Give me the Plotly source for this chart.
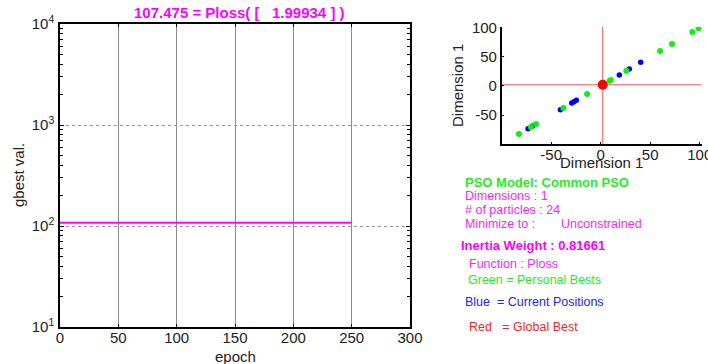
import plotly.graph_objects as go

# ---- data ----
epochs = [0, 50, 100, 150, 200, 250]
gbest_vals = [107.475, 107.475, 107.475, 107.475, 107.475, 107.475]

gbest_pos = 1.99934
pbest_pos = [-82.5, -70.5, -65.3, -37.7, -13.8, 9.1, 10.2, 25.9, 60.0, 72.0, 92.6, 98.7]
current_pos = [-73.4, -68.6, -40.7, -29.3, -27.0, -24.6, 18.8, 28.9, 40.4]

x1_ticks = [0, 50, 100, 150, 200, 250, 300]
y1_ticks = [10, 100, 1000, 10000]
y1_ticktext = ["10<sup>1</sup>", "10<sup>2</sup>", "10<sup>3</sup>", "10<sup>4</sup>"]
y1_minor = [m * 10 ** k for k in (1, 2, 3) for m in range(2, 10)]
x2_ticks = [-50, 0, 50, 100]
x2_ticktext = ["-50", "0", "50", "100"]
y2_ticks = [-50, 0, 50, 100]
y2_ticktext = ["-50", "0", "50", "100"]
swarm_range = [-100, 102]

title_text = "107.475 = Ploss( [   1.99934 ] )"

W, H = 708, 364
FONT = "Liberation Sans, Arial, sans-serif"

fig = go.Figure()

# main convergence plot
fig.add_trace(go.Scatter(x=epochs, y=gbest_vals, mode="lines",
                         line=dict(color="#ff00ff", width=2),
                         xaxis="x", yaxis="y", showlegend=False))

# swarm plot crosshair at global best
fig.add_trace(go.Scatter(x=swarm_range, y=[gbest_pos, gbest_pos], mode="lines",
                         line=dict(color="#ff5555", width=1),
                         xaxis="x2", yaxis="y2", showlegend=False))
fig.add_trace(go.Scatter(x=[gbest_pos, gbest_pos], y=[-100, 101], mode="lines",
                         line=dict(color="#ff5555", width=1),
                         xaxis="x2", yaxis="y2", showlegend=False))
fig.add_trace(go.Scatter(x=current_pos, y=current_pos, mode="markers",
                         marker=dict(color="#0000ff", size=5.5),
                         xaxis="x2", yaxis="y2", showlegend=False))
fig.add_trace(go.Scatter(x=pbest_pos, y=pbest_pos, mode="markers",
                         marker=dict(color="#11ee11", size=6),
                         xaxis="x2", yaxis="y2", showlegend=False))
fig.add_trace(go.Scatter(x=[gbest_pos], y=[gbest_pos], mode="markers",
                         marker=dict(color="#ff0000", size=10),
                         xaxis="x2", yaxis="y2", showlegend=False))

def px(x):
    return x / W

def py(y):
    return 1 - y / H

tickfont = dict(family=FONT, size=15, color="#222")

fig.update_layout(
    width=W, height=H,
    margin=dict(l=0, r=0, t=0, b=0),
    paper_bgcolor="white", plot_bgcolor="white",
    font=dict(family=FONT, size=15, color="#222"),
    xaxis=dict(domain=[px(60), px(410)], range=[0, 300], tickvals=x1_ticks,
               automargin=False, ticklabelstandoff=-4, ticklabeloverflow="allow",
               showgrid=True, gridcolor="#8a8a8a", gridwidth=1,
               ticks="inside", ticklen=3, tickcolor="black",
               showline=True, linecolor="black", linewidth=1.5, mirror="ticks",
               zeroline=False, tickfont=tickfont),
    yaxis=dict(domain=[py(327), py(24)], type="log", range=[1, 4],
               automargin=False, ticklabelstandoff=1, ticklabeloverflow="allow",
               tickvals=y1_ticks, ticktext=y1_ticktext,
               showgrid=True, gridcolor="#999", griddash="dot", gridwidth=1,
               ticks="inside", ticklen=4, tickcolor="black",
               minor=dict(tickvals=y1_minor, ticks="inside", ticklen=3, tickcolor="black", showgrid=False),
               showline=True, linecolor="black", linewidth=1.5, mirror="ticks",
               zeroline=False, tickfont=tickfont),
    xaxis2=dict(domain=[px(501.7), px(701.7)], range=swarm_range, anchor="y2",
                automargin=False, ticklabelstandoff=-4, ticklabeloverflow="allow",
                tickvals=x2_ticks, ticktext=x2_ticktext,
                showgrid=False, zeroline=False,
                ticks="inside", ticklen=3, tickcolor="black",
                showline=True, linecolor="black", linewidth=1.5,
                tickfont=tickfont),
    yaxis2=dict(domain=[py(144.3), py(27)], range=[-100, 101], anchor="x2",
                automargin=False, ticklabeloverflow="allow",
                tickvals=y2_ticks, ticktext=y2_ticktext,
                showgrid=False, zeroline=False,
                ticks="inside", ticklen=3, tickcolor="black",
                showline=True, linecolor="black", linewidth=1.5,
                tickfont=tickfont),
)

annotations = [
    dict(text="<b>" + title_text + "</b>", x=px(239), y=py(13), xanchor="center",
         font=dict(color="#ff00ff", size=15)),
    dict(text="epoch", x=px(235), y=py(356), xanchor="center",
         font=dict(color="#222", size=15)),
    dict(text="gbest val.", x=px(18), y=py(175), xanchor="center", textangle=-90,
         font=dict(color="#222", size=15)),
    dict(text="Dimension 1", x=px(601), y=py(162), xanchor="center",
         font=dict(color="#222", size=15)),
    dict(text="Dimension 1", x=px(457), y=py(86), xanchor="center", textangle=-90,
         font=dict(color="#222", size=15)),
    dict(text="<b>PSO Model: Common PSO</b>", x=px(463), y=py(182), xanchor="left",
         font=dict(color="#22ee22", size=13)),
    dict(text="Dimensions : 1", x=px(463), y=py(195.5), xanchor="left",
         font=dict(color="#ff22ff", size=12.5)),
    dict(text="# of particles : 24", x=px(463), y=py(210), xanchor="left",
         font=dict(color="#ff22ff", size=12.5)),
    dict(text="Minimize to :", x=px(463), y=py(224), xanchor="left",
         font=dict(color="#ff22ff", size=12.5)),
    dict(text="Unconstrained", x=px(559), y=py(224), xanchor="left",
         font=dict(color="#ff22ff", size=12.5)),
    dict(text="<b>Inertia Weight : 0.81661</b>", x=px(459), y=py(245), xanchor="left",
         font=dict(color="#ff00ff", size=13)),
    dict(text="Function : Ploss", x=px(467), y=py(264), xanchor="left",
         font=dict(color="#ff22ff", size=12.5)),
    dict(text="Green = Personal Bests", x=px(466), y=py(280), xanchor="left",
         font=dict(color="#22ee22", size=12.5)),
    dict(text="Blue  = Current Positions", x=px(463), y=py(302), xanchor="left",
         font=dict(color="#2222ff", size=12.5)),
    dict(text="Red   = Global Best", x=px(467), y=py(327), xanchor="left",
         font=dict(color="#ff2222", size=12.5)),
]
for a in annotations:
    a.update(xref="paper", yref="paper", yanchor="middle", showarrow=False)
    a["font"]["family"] = FONT
fig.update_layout(annotations=annotations)

fig.write_html("out.html", config={"displayModeBar": False},
               post_script="document.body.style.margin='0px';document.body.style.overflow='hidden';")
